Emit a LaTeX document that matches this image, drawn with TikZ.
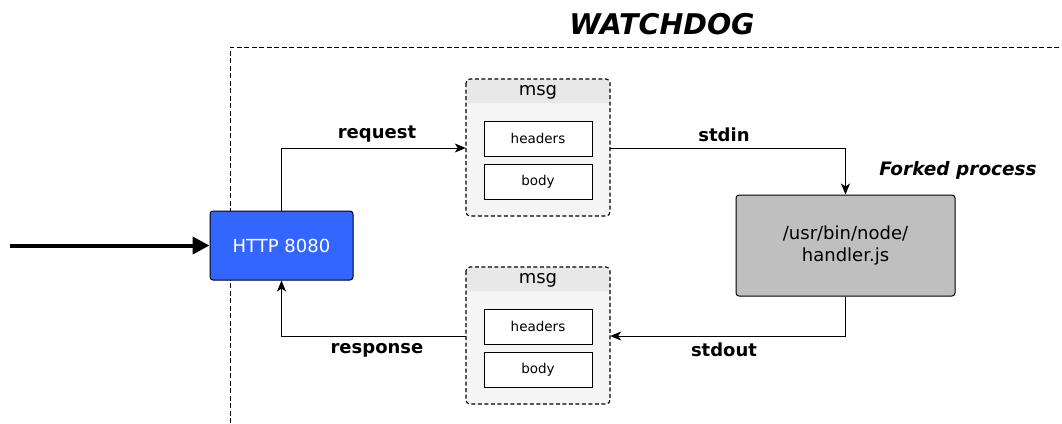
\documentclass[tikz,border=0pt]{standalone}
\usepackage{fontspec}
\setmainfont{DejaVu Sans}
\usetikzlibrary{arrows.meta,positioning}
\definecolor{httpblue}{HTML}{3366FF}
\definecolor{procgray}{HTML}{BFBFBF}
\definecolor{msgfill}{HTML}{F5F5F5}
\definecolor{msghead}{HTML}{E8E8E8}
\begin{document}
\begin{tikzpicture}[x=1pt,y=-1pt,
  box/.style={draw, rounded corners=3pt, line width=1pt, minimum width=#1},
  msgdash/.style={dash pattern=on 4pt off 2.5pt, rounded corners=4pt, line width=1.1pt},
  field/.style={draw, fill=white, line width=1pt, minimum width=108pt, minimum height=35pt, font=\fontsize{13.5}{16}\selectfont},
  link/.style={-{Stealth[length=11pt,width=9pt,inset=3pt]}, line width=1pt},
  lbl/.style={font=\fontsize{18}{21}\selectfont\bfseries},
  big/.style={font=\fontsize{18}{22}\selectfont}
]
\useasboundingbox (0,0) rectangle (1062,423);

% watchdog boundary
\draw[dash pattern=on 5pt off 2.5pt, line width=0.9pt] (230,423) -- (230,47) -- (1062,47);
\node[font=\fontsize{28.5}{32}\selectfont\bfseries\itshape] (title) at (662,24) {WATCHDOG};

% http listener
\node[box=143pt, fill=httpblue, minimum height=69pt, text=white, big] (http) at (281.5,245.5) {HTTP 8080};
\coordinate (src) at (10,245.5);
\draw[line width=4pt, -{Triangle[length=17pt,width=17pt]}] (src) -- (http.west);

% forked handler process
\node[box=219pt, fill=procgray, minimum height=101pt, align=center, font=\fontsize{18}{22}\selectfont] (proc) at (845.5,245.5) {/usr/bin/node/\\handler.js};
\node[font=\fontsize{18.5}{21}\selectfont\bfseries\itshape] (forked) at (958,170) {Forked process};

% request message
\fill[msgfill, rounded corners=4pt] (466,79) rectangle (610,216);
\fill[msghead] (466.8,79.8) [rounded corners=3.5pt] -- (609.2,79.8) [sharp corners] -- (609.2,103) -- (466.8,103) [rounded corners=3.5pt] -- cycle;
\draw[msgdash] (466,79) rectangle (610,216);
\node[inner sep=0pt, minimum width=144pt, minimum height=137pt] (req) at (538,147.5) {};
\node[big] (reqtitle) at (538,92) {msg};
\node[field] (reqhead) at (538,138.5) {headers};
\node[field] (reqbody) at (538,181.5) {body};

% response message
\fill[msgfill, rounded corners=4pt] (466,267) rectangle (610,404);
\fill[msghead] (466.8,267.8) [rounded corners=3.5pt] -- (609.2,267.8) [sharp corners] -- (609.2,291) -- (466.8,291) [rounded corners=3.5pt] -- cycle;
\draw[msgdash] (466,267) rectangle (610,404);
\node[inner sep=0pt, minimum width=144pt, minimum height=137pt] (resp) at (538,335.5) {};
\node[big] (resptitle) at (538,280) {msg};
\node[field] (resphead) at (538,326.5) {headers};
\node[field] (respbody) at (538,369.5) {body};

% flows
\draw[link] (http.north) |- (req.west |- 0,148);
\draw[link] (req.east |- 0,148) -| (proc.north);
\draw[link] (proc.south) |- (resp.east |- 0,336);
\draw[link] (resp.west |- 0,336) -| (http.south);
\node[lbl] (reqlbl) at (377,134.5) {request};
\node[lbl] (stdinlbl) at (724,134.5) {stdin};
\node[lbl] (stdoutlbl) at (724,350) {stdout};
\node[lbl] (resplbl) at (377,350) {response};
\end{tikzpicture}
\end{document}
